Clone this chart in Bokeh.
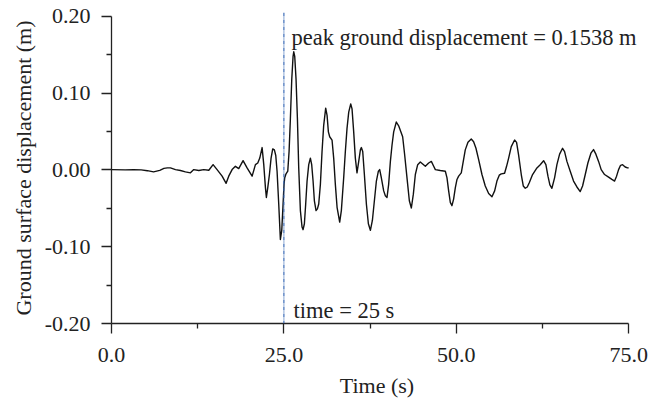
from bokeh.plotting import figure
from bokeh.models import (FixedTicker, PrintfTickFormatter, Span, Label, Range1d)
from bokeh.embed import file_html
from bokeh.resources import INLINE

# ---- data ----
time_s = [0.0, 2.0, 3.2, 4.3, 5.2, 6.1, 7.0, 7.6, 8.1, 8.55, 9.28, 10.0, 10.72, 11.45,
          11.93, 12.66, 13.38, 14.11, 14.73, 15.31, 16.04, 16.62, 17.0, 17.49, 17.97,
          18.45, 19.08, 19.66, 20.39, 20.87, 21.21, 21.5, 21.84, 22.08, 22.32, 22.46,
          22.66, 22.9, 23.14, 23.38, 23.62, 23.82, 24.01, 24.25, 24.49, 24.69, 24.88,
          25.02, 25.12, 25.31, 25.56, 25.75, 25.94, 26.14, 26.33, 26.43, 26.57, 26.76,
          26.96, 27.15, 27.39, 27.63, 27.78, 27.97, 28.16, 28.36, 28.6, 28.84, 29.03,
          29.23, 29.42, 29.66, 29.86, 30.05, 30.29, 30.53, 30.77, 31.06, 31.26, 31.45,
          31.64, 31.98, 32.22, 32.46, 32.71, 33.09, 33.33, 33.67, 33.91, 34.15, 34.4,
          34.69, 34.88, 35.12, 35.36, 35.6, 35.85, 36.09, 36.23, 36.43, 36.67, 36.96,
          37.25, 37.54, 37.83, 38.12, 38.41, 38.7, 38.89, 39.13, 39.47, 39.71, 39.95,
          40.19, 40.44, 40.68, 40.92, 41.3, 41.64, 42.22, 42.51, 42.85, 43.19, 43.48,
          43.77, 44.06, 44.4, 44.78, 45.51, 45.99, 46.38, 46.72, 46.96, 47.68, 48.41,
          48.65, 48.89, 49.13, 49.37, 49.61, 49.86, 50.1, 50.34, 50.72, 51.01, 51.3,
          51.69, 52.17, 52.51, 52.85, 53.24, 53.72, 54.2, 54.69, 55.17, 55.56, 55.89,
          56.23, 56.52, 57.0, 57.29, 57.59, 57.97, 58.45, 58.74, 59.03, 59.42, 59.71,
          60.0, 60.29, 60.58, 61.06, 61.69, 62.17, 62.66, 62.99, 63.29, 63.57, 63.86,
          64.25, 64.59, 64.98, 65.41, 65.7, 66.04, 66.52, 67.0, 67.49, 67.97, 68.31,
          68.7, 69.08, 69.52, 69.9, 70.24, 70.63, 71.01, 71.5, 72.08, 72.56, 72.95,
          73.24, 73.53, 73.82, 74.11, 74.49, 74.83, 75.0]
displacement_m = [0.0004, 0.0, 0.0004, 0.0, -0.001, -0.0026, -0.0005, 0.002, 0.0026,
                  0.0026, 0.0004, -0.0008, -0.0026, -0.0038, 0.0004, -0.0008, 0.0004,
                  -0.0004, 0.0069, 0.0004, -0.0081, -0.0175, -0.0081, 0.0004, 0.0047,
                  0.0017, 0.012, 0.0026, -0.0081, 0.0069, 0.009, 0.0154, 0.0291, 0.0069,
                  -0.0231, -0.0359, -0.0231, -0.006, 0.0154, 0.0274, 0.0261, 0.0188,
                  -0.0017, -0.0444, -0.0906, -0.0786, -0.0444, -0.0188, -0.0102, -0.0051,
                  -0.0017, 0.0239, 0.0667, 0.118, 0.1479, 0.1538, 0.1479, 0.118, 0.0667,
                  0.0026, -0.053, -0.0744, -0.0778, -0.0701, -0.0444, -0.0145, 0.0069,
                  0.0154, 0.0069, -0.0145, -0.0402, -0.053, -0.0508, -0.0444, -0.0188,
                  0.0239, 0.0581, 0.0804, 0.071, 0.0496, 0.0432, 0.0389, 0.0154, -0.0188,
                  -0.0487, -0.0679, -0.053, -0.0102, 0.0239, 0.0538, 0.0752, 0.0859,
                  0.0795, 0.0496, 0.0154, -0.0038, 0.0111, 0.0261, 0.0291, 0.0239, -0.006,
                  -0.0444, -0.0701, -0.0786, -0.0658, -0.0402, -0.0145, -0.0017, 0.0004,
                  -0.0102, -0.0273, -0.0337, -0.0359, -0.0188, 0.0111, 0.0325, 0.0496,
                  0.0624, 0.0575, 0.0432, 0.0197, -0.0103, -0.0402, -0.0496, -0.0316,
                  -0.006, 0.0068, 0.0103, 0.0047, 0.009, 0.0111, 0.0047, 0.0004, -0.0008,
                  -0.0017, -0.0103, -0.0273, -0.0423, -0.0466, -0.038, -0.0231, -0.0124,
                  -0.0081, -0.0038, 0.0111, 0.0261, 0.0359, 0.0402, 0.0368, 0.0282,
                  0.0133, -0.006, -0.0209, -0.0308, -0.035, -0.0273, -0.0145, -0.0068,
                  -0.0051, -0.0043, 0.0047, 0.0154, 0.0304, 0.0389, 0.0359, 0.0197,
                  -0.006, -0.0209, -0.0239, -0.0222, -0.0167, -0.006, 0.0026, 0.0068,
                  0.012, 0.0068, -0.0081, -0.0196, -0.0239, -0.0103, 0.0068, 0.0205,
                  0.0282, 0.0239, 0.0111, -0.0017, -0.0145, -0.0222, -0.0282, -0.0209,
                  -0.006, 0.009, 0.0218, 0.0265, 0.0205, 0.0111, 0.0004, -0.006, -0.0094,
                  -0.0124, -0.0145, -0.0081, 0.0004, 0.006, 0.0068, 0.0038, 0.0026, 0.0026]

x_major_ticks = [0, 25, 50, 75]
x_minor_ticks = [12.5, 37.5, 62.5]
y_major_ticks = [-0.20, -0.10, 0.00, 0.10, 0.20]
y_minor_ticks = [-0.15, -0.05, 0.05, 0.15]

marker_time = 25
peak_text = "peak ground displacement = 0.1538 m"
time_text = "time = 25 s"
x_label = "Time (s)"
y_label = "Ground surface displacement (m)"

FONT = "Liberation Serif"
TXT = "#222222"

p = figure(width=650, height=400, output_backend="svg", toolbar_location=None,
           x_range=Range1d(0, 77), y_range=Range1d(-0.2, 0.205),
           min_border_left=111, min_border_right=8, min_border_top=12,
           min_border_bottom=72)
p.outline_line_color = None
p.background_fill_color = "white"
p.border_fill_color = "white"
p.xgrid.visible = False
p.ygrid.visible = False

p.line(time_s, displacement_m, line_color="#111111", line_width=1.4,
       line_join="round")

p.add_layout(Span(location=marker_time, dimension="height", line_color="#2b5fb0",
                  line_width=1.1, line_dash="4 1 1 1"))

p.add_layout(Label(x=26.1, y=0.1725, text=peak_text, text_font=FONT,
                   text_font_size="22.5px", text_color=TXT, text_baseline="alphabetic"))
p.add_layout(Label(x=26.4, y=-0.1835, text=time_text, text_font=FONT,
                   text_font_size="22.5px", text_color=TXT, text_baseline="alphabetic"))

for ax in (p.xaxis[0], p.yaxis[0]):
    ax.axis_line_color = TXT
    ax.axis_line_width = 1.3
    ax.major_tick_line_color = TXT
    ax.minor_tick_line_color = TXT
    ax.major_tick_line_width = 1.3
    ax.minor_tick_line_width = 1.3
    ax.major_tick_in = 0
    ax.major_tick_out = 10
    ax.minor_tick_in = 0
    ax.minor_tick_out = 5
    ax.major_label_text_font = FONT
    ax.major_label_text_font_size = "22px"
    ax.major_label_text_color = TXT
    ax.axis_label_text_font = FONT
    ax.axis_label_text_font_size = "22px"
    ax.axis_label_text_font_style = "normal"
    ax.axis_label_text_color = TXT

p.xaxis.ticker = FixedTicker(ticks=x_major_ticks, minor_ticks=x_minor_ticks)
p.xaxis.formatter = PrintfTickFormatter(format="%.1f")
p.xaxis.bounds = (0, 75)
p.xaxis.axis_label = x_label
p.xaxis.major_label_standoff = 14
p.xaxis.axis_label_standoff = 8

p.yaxis.ticker = FixedTicker(ticks=y_major_ticks, minor_ticks=y_minor_ticks)
p.yaxis.formatter = PrintfTickFormatter(format="%.2f")
p.yaxis.bounds = (-0.2, 0.2)
p.yaxis.axis_label = y_label
p.yaxis.major_label_standoff = 11
p.yaxis.axis_label_standoff = 6

open("out.html", "w").write(file_html(p, INLINE))
